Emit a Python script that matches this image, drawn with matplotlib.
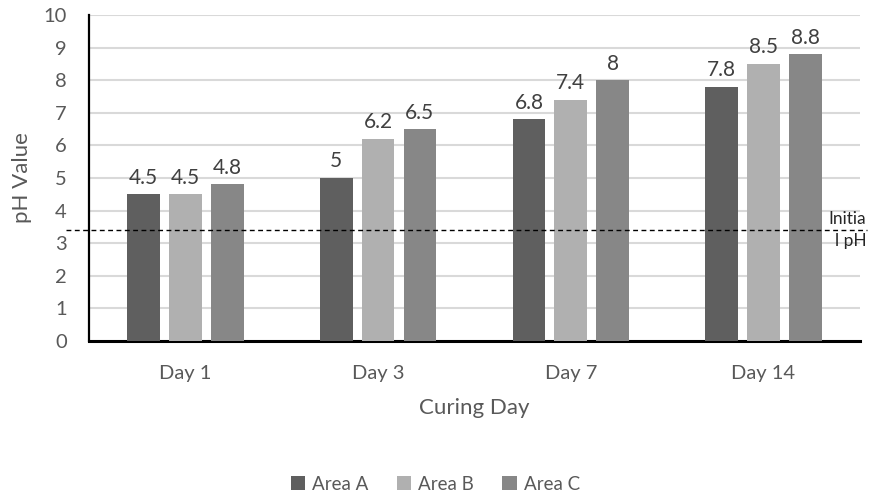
import numpy as np
import matplotlib.pyplot as plt

plt.rcParams['font.family'] = ['Lato', 'DejaVu Sans']

# pH readings per curing day
days = ['Day 1', 'Day 3', 'Day 7', 'Day 14']
area_a = [4.5, 5.0, 6.8, 7.8]
area_b = [4.5, 6.2, 7.4, 8.5]
area_c = [4.8, 6.5, 8.0, 8.8]
initial_ph = 3.4

series = [('Area A', area_a, '#5f5f5f'),
          ('Area B', area_b, '#b0b0b0'),
          ('Area C', area_c, '#878787')]

fig = plt.figure(figsize=(8.71, 4.97), dpi=100)
ax = fig.add_axes([0.1022, 0.3139, 0.885, 0.656])

x = np.arange(len(days))
width = 0.17
step = 0.217
for i, (name, vals, col) in enumerate(series):
    pos = x + (i - 1) * step
    ax.bar(pos, vals, width, color=col, label=name, zorder=3)
    for p, v in zip(pos, vals):
        ax.text(p, v + 0.2, ('%g' % v), ha='center', va='bottom',
                fontsize=15, color='#404040', zorder=4)

ax.set_xlim(-0.5, len(days) - 0.5)
ax.set_ylim(0, 10)
ax.set_yticks(range(0, 11))
ax.set_xticks(x)
ax.set_xticklabels(days)
ax.tick_params(axis='both', length=0, labelsize=14.5, colors='#595959')
ax.tick_params(axis='x', pad=17)
ax.tick_params(axis='y', pad=16)
ax.grid(axis='y', color='#d9d9d9', linewidth=1.5, zorder=0)

for s in ['top', 'right']:
    ax.spines[s].set_visible(False)
ax.spines['left'].set_linewidth(1.6)
ax.spines['bottom'].set_linewidth(2.2)
ax.spines['left'].set_color('black')
ax.spines['bottom'].set_color('black')

# dashed reference line for the starting pH, runs past the axes on both sides
ax.plot([-0.62, 3.535], [initial_ph, initial_ph], '--', color='black',
        linewidth=1.0, dashes=(3.5, 2.5), clip_on=False, zorder=5)
ax.text(3.533, initial_ph, 'Initia\nl pH', ha='right', va='center',
        fontsize=12.5, color='#262626', linespacing=1.45, zorder=6)

ax.set_ylabel('pH Value', fontsize=16, color='#595959', labelpad=8)
ax.set_xlabel('Curing Day', fontsize=16, color='#595959', labelpad=12)

fig.legend(loc='center', bbox_to_anchor=(0.5, 0.026), ncol=3, frameon=False,
           fontsize=13.5, labelcolor='#595959', handlelength=0.75,
           handleheight=0.75, handletextpad=0.4, columnspacing=1.5)

plt.savefig('out.png', dpi=100)
